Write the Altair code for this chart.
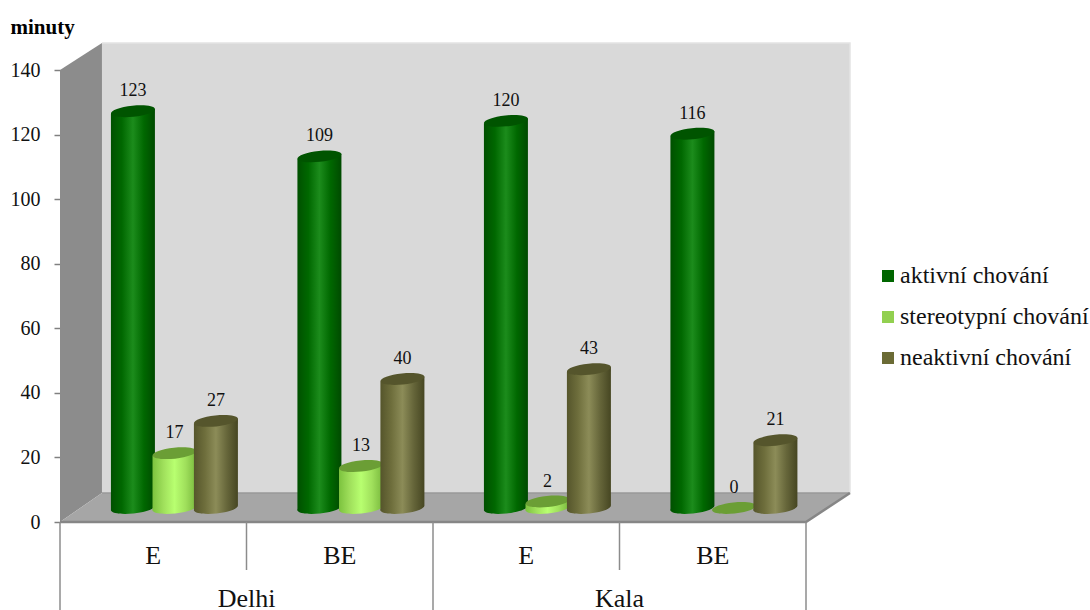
import altair as alt
import pandas as pd

# Chart values
groups = ["E", "BE", "E", "BE"]
places = ["Delhi", "Kala"]
series = ["aktivní chování", "stereotypní chování", "neaktivní chování"]
aktivni = [123, 109, 120, 116]
stereotypni = [17, 13, 2, 0]
neaktivni = [27, 40, 43, 21]
y_ticks = [0, 20, 40, 60, 80, 100, 120, 140]

# Canvas scales: x in category units, y in minutes
PX_CAT = 186.5
PX_MIN = 3.226
X_DOM = [0, 1030 / PX_CAT]
Y_DOM = [-88 / PX_MIN, 522 / PX_MIN]
FONT = "Liberation Serif"

# Depth of the simulated 3D box
DX_L, DX_R = 0.225, 0.236
DY_FLOOR, Y_TOP_BACK = 9.0, 148.5
BASE = 14 / PX_MIN
SKEW = 2.5 / PX_MIN
BAR_W = 44 / PX_CAT
OFFSETS = [0.391, 0.614, 0.836]
SLANT = "M-0.995,0.105A1,0.25,-6,1,1,0.995,-0.105A1,0.25,-6,1,1,-0.995,0.105Z"
LABEL_GAP = 20 / PX_MIN

minutes_axis = alt.Axis(
    values=y_ticks, domain=False, grid=False, title="minuty", titleAngle=0,
    titleFont=FONT, titleFontSize=21, titleFontWeight="bold", titleColor="#000000",
    titleAlign="left", titleBaseline="alphabetic", titleX=-50, titleY=33,
    labelFont=FONT, labelFontSize=20, labelColor="#111111", labelPadding=14,
    tickSize=6, tickColor="#808080", tickWidth=1.5,
)
x_enc = alt.X("x:Q", scale=alt.Scale(domain=X_DOM, nice=False, zero=False), axis=None)
y_enc = alt.Y("y:Q", scale=alt.Scale(domain=Y_DOM, nice=False, zero=False), axis=minutes_axis)
y2_enc = alt.Y2("y2:Q")


def grad(edge_l, mid_l, centre, mid_r, edge_r):
    return alt.LinearGradient(
        gradient="linear",
        stops=[
            alt.GradientStop(offset=0, color=edge_l),
            alt.GradientStop(offset=0.25, color=mid_l),
            alt.GradientStop(offset=0.5, color=centre),
            alt.GradientStop(offset=0.75, color=mid_r),
            alt.GradientStop(offset=1, color=edge_r),
        ],
        x1=0, x2=1, y1=0, y2=0,
    )


styles = [
    (aktivni, grad("#005000", "#006800", "#1c8c1c", "#006800", "#004a00"), "#005400"),
    (stereotypni, grad("#7cc23e", "#a0e05c", "#b8ff70", "#a0e05c", "#78b83c"), "#6b9e35"),
    (neaktivni, grad("#55552b", "#6e6e3c", "#8c8c58", "#66663a", "#464622"), "#55552c"),
]

# Walls and floor
back = alt.Chart(pd.DataFrame({"x": [DX_L, 4 + DX_R], "y": [Y_TOP_BACK] * 2, "y2": [DY_FLOOR] * 2})).mark_area(
    color="#d9d9d9", interpolate="linear").encode(x=x_enc, y=y_enc, y2=y2_enc)
wall = alt.Chart(pd.DataFrame({"x": [0, DX_L], "y": [140.1, Y_TOP_BACK], "y2": [0, DY_FLOOR]})).mark_area(
    color="#8c8c8c", interpolate="linear").encode(x=x_enc, y=y_enc, y2=y2_enc)
floor = alt.Chart(pd.DataFrame({
    "x": [0, DX_L, 4, 4 + DX_R], "y": [0, DY_FLOOR, DY_FLOOR, DY_FLOOR], "y2": [0, 0, 0, DY_FLOOR]
})).mark_area(color="#a6a6a6", interpolate="linear").encode(x=x_enc, y=y_enc, y2=y2_enc)
front_edge = alt.Chart(pd.DataFrame({"x": [0, 4, 4 + DX_R], "y": [0, 0, DY_FLOOR]})).mark_line(
    color="#868686", strokeWidth=2.5, interpolate="linear").encode(x=x_enc, y=y_enc)
floor_back = alt.Chart(pd.DataFrame({"x": [DX_L, 4 + DX_R], "y": [DY_FLOOR] * 2})).mark_line(
    color="#999999", strokeWidth=1.5).encode(x=x_enc, y=y_enc)
back_edge = alt.Chart(pd.DataFrame({"x": [DX_L, 4 + DX_R, 4 + DX_R], "y": [Y_TOP_BACK, Y_TOP_BACK, DY_FLOOR]})).mark_line(
    color="#e4e4e4", strokeWidth=1.5, interpolate="linear").encode(x=x_enc, y=y_enc)

# Category separators below the floor
seps = pd.DataFrame({
    "x": [0, 1, 2, 3, 4],
    "y": [0] * 5,
    "y2": [-88 / PX_MIN, -48 / PX_MIN, -88 / PX_MIN, -48 / PX_MIN, -88 / PX_MIN],
})
sep_rules = alt.Chart(seps).mark_rule(color="#8c8c8c", strokeWidth=1.5).encode(x=x_enc, y=y_enc, y2=y2_enc)

# Cylinders: base ellipse, slanted body, top ellipse
layers = []
labels = []
for s, (vals, fill, cap) in enumerate(styles):
    bodies, bases, tops = [], [], []
    for g, v in enumerate(vals):
        cx = g + OFFSETS[s]
        tops.append({"x": cx, "y": v + BASE})
        labels.append({"x": cx, "y": v + BASE + LABEL_GAP, "t": str(v)})
        if v > 0:
            bases.append({"x": cx, "y": BASE})
            bodies.append({"bar": g, "x": cx - BAR_W / 2, "y": v + BASE - SKEW, "y2": BASE - SKEW})
            bodies.append({"bar": g, "x": cx + BAR_W / 2, "y": v + BASE + SKEW, "y2": BASE + SKEW})
    layers.append(alt.Chart(pd.DataFrame(bases)).mark_point(
        shape=SLANT, size=1950, filled=True, fill=fill, opacity=1, strokeWidth=0).encode(x=x_enc, y=y_enc))
    layers.append(alt.Chart(pd.DataFrame(bodies)).mark_area(
        fill=fill, interpolate="linear", opacity=1).encode(
        x=x_enc, y=y_enc, y2=y2_enc, detail="bar:N"))
    layers.append(alt.Chart(pd.DataFrame(tops)).mark_point(
        shape=SLANT, size=1950, filled=True, fill=cap, opacity=1, strokeWidth=0).encode(x=x_enc, y=y_enc))

value_text = alt.Chart(pd.DataFrame(labels)).mark_text(
    font=FONT, fontSize=18, color="#111111").encode(x=x_enc, y=y_enc, text="t:N")

# Category and place labels
cat_df = pd.DataFrame({"x": [i + 0.5 for i in range(4)], "y": [-34 / PX_MIN] * 4, "t": groups})
place_df = pd.DataFrame({"x": [1, 3], "y": [-77 / PX_MIN] * 2, "t": places})
cat_text = alt.Chart(cat_df).mark_text(font=FONT, fontSize=26, color="#111111").encode(x=x_enc, y=y_enc, text="t:N")
place_text = alt.Chart(place_df).mark_text(font=FONT, fontSize=26, color="#111111").encode(x=x_enc, y=y_enc, text="t:N")

# Legend from an invisible layer
legend_layer = alt.Chart(pd.DataFrame({"x": [1, 1, 1], "y": [1, 1, 1], "s": series})).mark_square(size=0).encode(
    x=x_enc, y=y_enc,
    color=alt.Color("s:N", sort=series,
                    scale=alt.Scale(domain=series, range=["#006600", "#92d050", "#6b6b35"]),
                    legend=alt.Legend(title=None, orient="none", legendX=816, legendY=264, padding=0,
                                      labelFont=FONT, labelFontSize=24, labelColor="#111111",
                                      symbolType="square", symbolSize=144, symbolStrokeWidth=0,
                                      symbolOpacity=1, labelOffset=0, rowPadding=17, labelLimit=300)),
)

chart = alt.layer(
    back, wall, floor, floor_back, back_edge, front_edge, sep_rules,
    *layers, value_text, cat_text, place_text, legend_layer,
).properties(
    width=1030, height=610,
    padding={"left": 60, "top": 0, "right": 0, "bottom": 0},
    autosize=alt.AutoSizeParams(type="none"),
    background="white",
).configure_view(stroke=None)

chart.save("out.html", embed_options={"renderer": "svg", "actions": False})
